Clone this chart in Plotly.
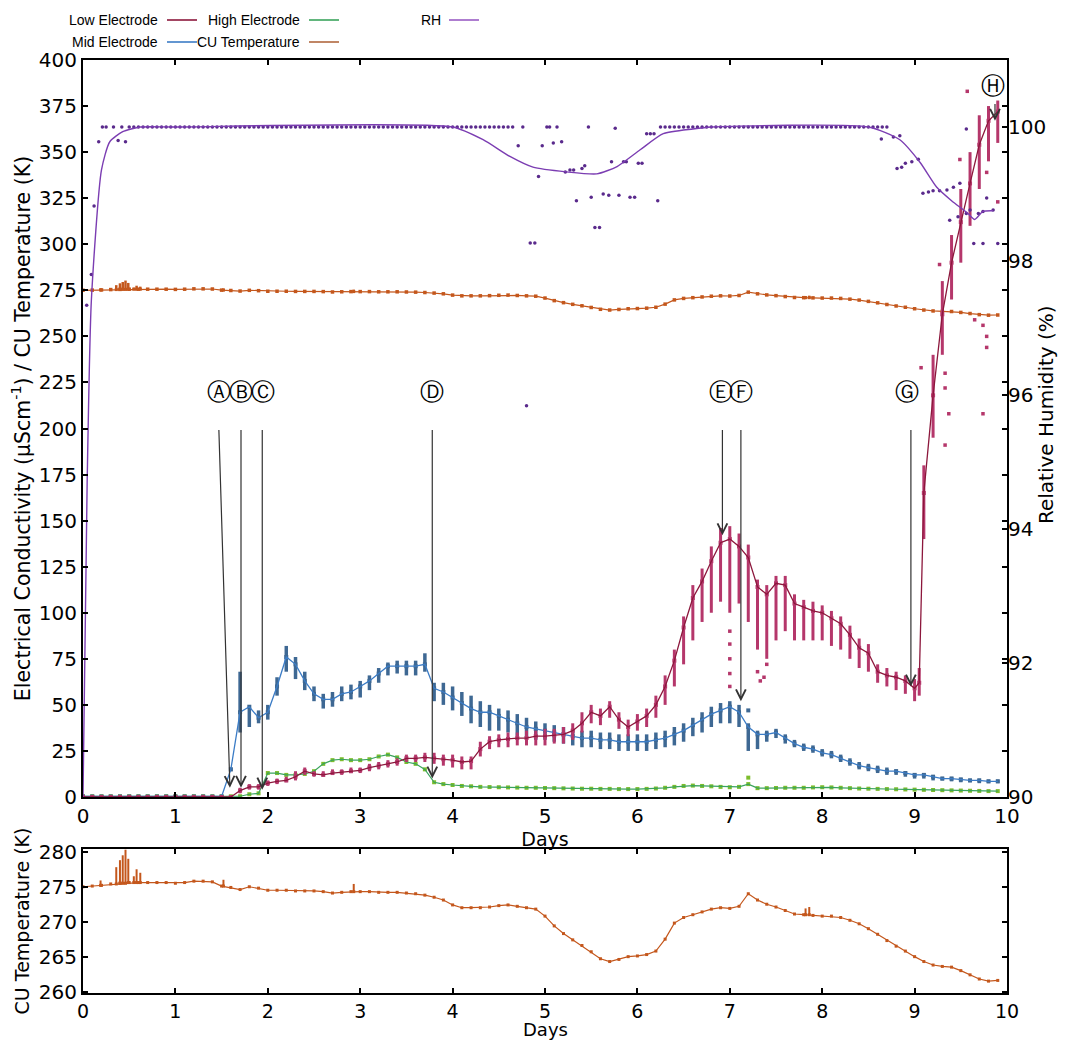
import plotly.graph_objects as go

# ---------------- data ----------------
days = [0.0, 0.1, 0.2, 0.3, 0.4, 0.5, 0.6, 0.7, 0.8, 0.9,
        1.0, 1.1, 1.2, 1.3, 1.4, 1.5, 1.6, 1.7, 1.8, 1.9,
        2.0, 2.1, 2.2, 2.3, 2.4, 2.5, 2.6, 2.7, 2.8, 2.9,
        3.0, 3.1, 3.2, 3.3, 3.4, 3.5, 3.6, 3.7, 3.8, 3.9,
        4.0, 4.1, 4.2, 4.3, 4.4, 4.5, 4.6, 4.7, 4.8, 4.9,
        5.0, 5.1, 5.2, 5.3, 5.4, 5.5, 5.6, 5.7, 5.8, 5.9,
        6.0, 6.1, 6.2, 6.3, 6.4, 6.5, 6.6, 6.7, 6.8, 6.9,
        7.0, 7.1, 7.2, 7.3, 7.4, 7.5, 7.6, 7.7, 7.8, 7.9,
        8.0, 8.1, 8.2, 8.3, 8.4, 8.5, 8.6, 8.7, 8.8, 8.9,
        9.0, 9.1, 9.2, 9.3, 9.4, 9.5, 9.6, 9.7, 9.8, 9.9]

# Low electrode (own time base: extra sample at 9.05)
low_days = [0.0, 0.1, 0.2, 0.3, 0.4, 0.5, 0.6, 0.7, 0.8, 0.9,
            1.0, 1.1, 1.2, 1.3, 1.4, 1.5, 1.6, 1.7, 1.8, 1.9,
            2.0, 2.1, 2.2, 2.3, 2.4, 2.5, 2.6, 2.7, 2.8, 2.9,
            3.0, 3.1, 3.2, 3.3, 3.4, 3.5, 3.6, 3.7, 3.8, 3.9,
            4.0, 4.1, 4.2, 4.3, 4.4, 4.5, 4.6, 4.7, 4.8, 4.9,
            5.0, 5.1, 5.2, 5.3, 5.4, 5.5, 5.6, 5.7, 5.8, 5.9,
            6.0, 6.1, 6.2, 6.3, 6.4, 6.5, 6.6, 6.7, 6.8, 6.9,
            7.0, 7.1, 7.2, 7.3, 7.4, 7.5, 7.6, 7.7, 7.8, 7.9,
            8.0, 8.1, 8.2, 8.3, 8.4, 8.5, 8.6, 8.7, 8.8, 8.9,
            9.0, 9.05, 9.1, 9.2, 9.3, 9.4, 9.5, 9.6, 9.7, 9.8, 9.9]
low_val = [0, 0, 0, 0, 0, 0, 0, 0, 0, 0,
           0, 0, 0, 0, 0, 0, 0, 3.5, 5.5, 5.5,
           7.5, 8.5, 9, 11, 14, 12.5, 12, 13, 13.5, 14,
           14.5, 16, 17, 18, 19, 21, 21, 21.5, 21, 20.5,
           20, 19, 19.5, 26, 30, 31, 31.5, 32, 32, 33,
           33, 33.5, 34, 36, 40, 46, 44, 49, 42, 38,
           41, 44, 50, 60, 74, 92, 108, 117, 128, 138,
           140, 136, 130, 114, 110, 116, 115, 105, 103, 101,
           100, 97, 94, 88, 81, 78, 68, 66, 65, 63,
           59, 62, 165, 218, 262, 290, 312, 333, 354, 367, 372]
low_min = [0, 0, 0, 0, 0, 0, 0, 0, 0, 0,
           0, 0, 0, 0, 0, 0, 0, 2, 4, 4,
           6, 7, 8, 9, 12, 11, 11, 12, 12, 13,
           13, 14, 15, 16, 17, 19, 19, 19, 18, 17,
           16, 15, 15, 22, 26, 27, 27, 28, 28, 28,
           28, 29, 29, 31, 35, 40, 39, 43, 37, 33,
           36, 38, 43, 50, 60, 72, 85, 95, 100, 106,
           100, 105, 95, 80, 75, 85, 90, 85, 85, 85,
           85, 82, 80, 75, 70, 68, 62, 60, 58, 56,
           52, 55, 140, 195, 240, 270, 290, 310, 330, 345, 355]
low_max = [0, 0, 0, 0, 0, 0, 0, 0, 0, 0,
           0, 0, 0, 0, 0, 0, 0, 5, 7, 7,
           9, 10, 11, 14, 16, 14, 14, 15, 15, 16,
           16, 18, 19, 20, 21, 23, 23, 24, 24, 23,
           23, 22, 22, 30, 33, 34, 35, 35, 36, 36,
           37, 37, 38, 40, 46, 50, 48, 52, 46, 42,
           45, 48, 55, 66, 80, 98, 115, 124, 136, 146,
           147, 143, 137, 118, 115, 120, 120, 110, 107, 106,
           104, 101, 98, 93, 86, 83, 72, 70, 68, 66,
           64, 70, 180, 240, 280, 305, 330, 350, 370, 375, 378]
low_out_days = [7.0, 7.0, 7.0, 7.0, 7.0, 7.3, 7.33, 7.37, 7.4, 9.07, 9.27, 9.33,
                9.33, 9.37, 9.33, 9.49, 9.57, 9.65, 9.74, 9.74, 9.78, 9.78, 9.78, 9.9]
low_out_vals = [60, 67, 75, 83, 90, 68, 63, 65, 72, 233, 289, 222,
                230, 208, 191, 346, 383, 259, 256, 208, 244, 250, 339, 323]

# Mid electrode
mid_val = [0.3, 0.3, 0.3, 0.3, 0.3, 0.3, 0.3, 0.3, 0.3, 0.3,
           0.3, 0.3, 0.3, 0.3, 0.3, 0.3, 15, 46, 49, 43,
           46, 60, 76, 72, 63, 56, 53, 53, 56, 57,
           60, 63, 67, 71, 71, 71, 71, 72, 59, 57,
           54, 51, 48, 46, 46, 44, 42, 40, 38, 37,
           36, 35, 34, 33, 32, 32, 31, 31, 30, 30,
           30, 30, 31, 32, 34, 36, 39, 42, 45, 47,
           49, 46, 38, 34, 34, 35, 32, 29, 27, 26,
           24, 23, 21, 19, 17, 16, 15, 14, 14, 13,
           12, 12, 11, 10, 10, 9.5, 9, 9, 8.5, 8.5]
mid_min = [0, 0, 0, 0, 0, 0, 0, 0, 0, 0,
           0, 0, 0, 0, 0, 0, 14, 35, 38, 40,
           42, 55, 68, 64, 58, 52, 48, 49, 52, 53,
           54, 58, 62, 66, 67, 66, 66, 68, 52, 50,
           47, 44, 40, 38, 36, 36, 35, 33, 32, 31,
           31, 30, 29, 28, 27, 27, 26, 26, 25, 25,
           25, 25, 26, 27, 28, 30, 33, 35, 38, 40,
           40, 38, 25, 26, 30, 32, 29, 27, 25, 24,
           22, 21, 19, 17, 15, 14, 13, 12, 12, 11,
           10, 10, 9, 9, 8.5, 8, 8, 7.5, 7.5, 7.5]
mid_max = [1, 1, 1, 1, 1, 1, 1, 1, 1, 1,
           1, 1, 1, 1, 1, 1, 16, 68, 48, 47,
           50, 65, 82, 76, 68, 60, 56, 57, 60, 61,
           63, 66, 70, 73, 74, 74, 74, 78, 62, 62,
           60, 57, 55, 52, 50, 48, 47, 45, 43, 41,
           40, 39, 38, 37, 36, 36, 35, 35, 34, 34,
           34, 34, 35, 36, 38, 40, 43, 46, 49, 51,
           52, 50, 40, 36, 36, 37, 34, 31, 29, 28,
           26, 25, 23, 21, 19, 18, 17, 16, 15, 14,
           13, 13, 12, 11, 11, 10.5, 10, 10, 9.5, 9.5]
mid_out_days = [7.2]
mid_out_vals = [47]

# High electrode
high_val = [0.4, 0.4, 0.4, 0.4, 0.4, 0.4, 0.4, 0.4, 0.4, 0.4,
            0.4, 0.4, 0.4, 0.4, 0.4, 0.4, 0.4, 0.4, 1.5, 2.0,
            13, 13, 12, 12, 12.5, 14, 18, 20, 20.5, 20,
            20, 20.5, 22, 23, 21.5, 19, 18, 15, 8, 7,
            6.5, 6, 5.8, 5.5, 5.4, 5.3, 5.2, 5.1, 5, 5,
            4.9, 4.8, 4.7, 4.6, 4.5, 4.5, 4.4, 4.4, 4.3, 4.3,
            4.3, 4.4, 4.6, 5, 5.5, 6, 6.2, 6, 5.8, 5.5,
            5.3, 5.5, 7, 4.8, 4.8, 4.9, 5, 5, 5, 5.2,
            5.3, 5.2, 5, 4.8, 4.6, 4.5, 4.4, 4.3, 4.2, 4.1,
            4, 3.9, 3.8, 3.7, 3.6, 3.5, 3.4, 3.3, 3.2, 3.2]
high_out_days = [7.2]
high_out_vals = [10.5]

# CU temperature (K)
cu_temp = [275.0, 275.1, 275.2, 275.4, 275.5, 275.6, 275.6, 275.6, 275.6, 275.6,
           275.5, 275.6, 275.8, 275.8, 275.7, 275.1, 274.9, 274.6, 275.0, 274.8,
           274.5, 274.5, 274.5, 274.4, 274.4, 274.4, 274.3, 274.1, 274.2, 274.3,
           274.3, 274.3, 274.2, 274.2, 274.2, 274.1, 274.0, 273.8, 273.5, 273.1,
           272.4, 272.0, 272.0, 272.0, 272.1, 272.3, 272.4, 272.2, 272.0, 271.8,
           270.8, 269.4, 268.3, 267.4, 266.6, 265.7, 264.7, 264.3, 264.6, 265.0,
           265.1, 265.3, 265.8, 267.5, 269.8, 270.6, 271.0, 271.4, 271.8, 272.0,
           271.9, 272.2, 274.0, 273.1, 272.5, 272.1, 271.6, 271.1, 271.0, 270.9,
           270.8, 270.8, 270.6, 270.2, 269.7, 269.0, 268.2, 267.3, 266.5, 265.8,
           265.0, 264.3, 263.8, 263.6, 263.5, 263.0, 262.4, 261.8, 261.5, 261.6]
cu_spike_days = [0.19, 0.36, 0.4, 0.43, 0.46, 0.49, 0.55, 0.58, 0.62, 1.52, 2.93, 7.82, 7.86]
cu_spike_base = [275.2, 275.4, 275.5, 275.5, 275.5, 275.6, 275.6, 275.6, 275.6, 275.1, 274.3, 271.0, 271.0]
cu_spike_top = [275.9, 277.8, 278.8, 279.5, 280.3, 279.0, 276.5, 277.5, 277.0, 276.0, 275.4, 271.9, 272.1]

# Relative humidity (%)
rh_line_days = [0.0, 0.045, 0.09, 0.2, 0.29, 0.43, 0.62, 1.0, 4.0, 4.33, 4.62, 4.87,
                5.23, 5.56, 5.78, 6.03, 6.28, 6.6, 6.8, 8.5, 8.84, 9.06, 9.24, 9.4,
                9.57, 9.65, 9.74, 9.85]
rh_line_vals = [90.0, 94.7, 97.4, 99.36, 99.78, 99.93, 100.0, 100.0, 100.0, 99.81, 99.56, 99.4,
                99.33, 99.3, 99.41, 99.66, 99.9, 99.97, 100.0, 100.0, 99.81, 99.47, 99.1, 98.9,
                98.72, 98.62, 98.74, 98.75]
rh_row_days = [0.50, 0.55, 0.60, 0.65, 0.70, 0.75, 0.80, 0.85, 0.90, 0.95,
               1.00, 1.05, 1.10, 1.15, 1.20, 1.25, 1.30, 1.35, 1.40, 1.45,
               1.50, 1.55, 1.60, 1.65, 1.70, 1.75, 1.80, 1.85, 1.90, 1.95,
               2.00, 2.05, 2.10, 2.15, 2.20, 2.25, 2.30, 2.35, 2.40, 2.45,
               2.50, 2.55, 2.60, 2.65, 2.70, 2.75, 2.80, 2.85, 2.90, 2.95,
               3.00, 3.05, 3.10, 3.15, 3.20, 3.25, 3.30, 3.35, 3.40, 3.45,
               3.50, 3.55, 3.60, 3.65, 3.70, 3.75, 3.80, 3.85, 3.90, 3.95,
               4.00, 4.05, 4.10, 4.15, 4.20, 4.25, 4.30, 4.35, 4.40, 4.45,
               4.50, 4.55, 4.60, 4.65,
               6.25, 6.30, 6.35, 6.40, 6.45, 6.50, 6.55, 6.60, 6.65, 6.70,
               6.75, 6.80, 6.85, 6.90, 6.95, 7.00, 7.05, 7.10, 7.15, 7.20,
               7.25, 7.30, 7.35, 7.40, 7.45, 7.50, 7.55, 7.60, 7.65, 7.70,
               7.75, 7.80, 7.85, 7.90, 7.95, 8.00, 8.05, 8.10, 8.15, 8.20,
               8.25, 8.30, 8.35, 8.40, 8.45, 8.50, 8.55, 8.60, 8.65, 8.70]
rh_row_val = 100.0
rh_pt_days = [0.04, 0.09, 0.12, 0.17, 0.21, 0.25, 0.33, 0.38, 0.42, 0.46,
              4.71, 4.76, 4.80, 4.84, 4.89, 4.93, 4.97, 5.02, 5.05, 5.09,
              5.13, 5.18, 5.22, 5.27, 5.31, 5.34, 5.40, 5.43, 5.47, 5.50,
              5.54, 5.59, 5.63, 5.69, 5.72, 5.76, 5.80, 5.85, 5.88, 5.92,
              5.97, 6.01, 6.05, 6.10, 6.14, 6.18, 6.22,
              8.64, 8.77, 8.84, 8.81, 8.86, 8.90, 8.97, 9.04, 9.09, 9.15,
              9.20, 9.27, 9.35, 9.42, 9.49, 9.38, 9.47, 9.56, 9.60, 9.69,
              9.74, 9.85, 9.64, 9.74, 9.90, 9.56, 9.78]
rh_pt_vals = [97.34, 97.8, 98.82, 99.78, 100.0, 100.0, 100.0, 99.8, 100.0, 99.78,
              99.72, 100.0, 95.84, 98.27, 98.27, 99.26, 99.72, 100.0, 100.0, 99.76,
              100.0, 99.78, 99.33, 99.36, 99.36, 98.9, 99.38, 99.42, 100.0, 98.95,
              98.5, 98.5, 99.0, 98.98, 99.48, 99.98, 98.98, 99.48, 99.48, 98.95,
              98.95, 99.46, 99.46, 99.9, 99.9, 99.9, 98.9,
              99.82, 99.85, 99.87, 99.38, 99.4, 99.46, 99.48, 99.52, 99.01, 99.03,
              99.05, 99.05, 99.06, 99.1, 99.16, 98.61, 98.66, 98.71, 98.76, 98.71,
              98.74, 98.76, 98.26, 98.26, 98.26, 99.97, 98.94]

# Event markers (letter, arrow tip day, tip value, tail day, tail value)
ev_letters = ["Ⓐ", "Ⓑ", "Ⓒ", "Ⓓ", "Ⓔ", "Ⓕ", "Ⓖ", "Ⓗ"]
ev_label_day = [1.47, 1.71, 1.95, 3.78, 6.91, 7.12, 8.92, 9.85]
ev_label_val = [220, 220, 220, 220, 220, 220, 220, 386]
ev_tip_day = [1.59, 1.71, 1.94, 3.78, 6.92, 7.12, 8.96, 9.87]
ev_tip_val = [5, 5, 4, 10, 142, 52, 60, 367]
ev_tail_day = [1.47, 1.71, 1.94, 3.78, 6.92, 7.12, 8.96, 9.87]
ev_tail_val = [200, 200, 200, 200, 200, 200, 200, 377]

# ---------------- styling ----------------
FONT = "DejaVu Sans, Verdana, sans-serif"
LEG_FONT = "Liberation Sans, Arial, sans-serif"
LOW_DOT, LOW_LINE = "#b5376b", "#8c173c"
MID_DOT, MID_LINE = "#3e6893", "#3b7cc6"
HIGH_DOT, HIGH_LINE = "#7dbd2c", "#3aa45c"
CU_C = "#c4571c"
RH_DOT, RH_LINE = "#5a2a8c", "#7b3db2"


def up(vals, hi):
    return [max(0, h - v) for v, h in zip(vals, hi)]


def dn(vals, lo):
    return [max(0, v - l) for v, l in zip(vals, lo)]


fig = go.Figure()

# --- top panel ---
fig.add_trace(go.Scatter(x=days, y=cu_temp, mode="lines+markers", name="CU Temperature",
                         line=dict(color=CU_C, width=1.2),
                         marker=dict(size=3.5, symbol="square", color=CU_C),
                         xaxis="x", yaxis="y"))
fig.add_trace(go.Scatter(x=cu_spike_days, y=cu_spike_base, mode="markers", showlegend=False,
                         marker=dict(size=3, symbol="square", color=CU_C),
                         error_y=dict(type="data", symmetric=False,
                                      array=up(cu_spike_base, cu_spike_top),
                                      arrayminus=[0] * len(cu_spike_base),
                                      width=0, thickness=2.5, color=CU_C),
                         xaxis="x", yaxis="y"))
fig.add_trace(go.Scatter(x=rh_row_days, y=[rh_row_val] * len(rh_row_days), mode="markers",
                         showlegend=False, marker=dict(size=3.5, color=RH_DOT),
                         xaxis="x", yaxis="y2"))
fig.add_trace(go.Scatter(x=rh_pt_days, y=rh_pt_vals, mode="markers", showlegend=False,
                         marker=dict(size=3.5, color=RH_DOT), xaxis="x", yaxis="y2"))
fig.add_trace(go.Scatter(x=rh_line_days, y=rh_line_vals, mode="lines", name="RH",
                         line=dict(color=RH_LINE, width=1.4, shape="spline", smoothing=0.6),
                         xaxis="x", yaxis="y2"))

fig.add_trace(go.Scatter(x=days, y=high_val, mode="markers", showlegend=False,
                         marker=dict(size=4, symbol="square", color=HIGH_DOT),
                         xaxis="x", yaxis="y"))
fig.add_trace(go.Scatter(x=high_out_days, y=high_out_vals, mode="markers", showlegend=False,
                         marker=dict(size=4, symbol="square", color=HIGH_DOT),
                         xaxis="x", yaxis="y"))
fig.add_trace(go.Scatter(x=days, y=high_val, mode="lines", name="High Electrode",
                         line=dict(color=HIGH_LINE, width=1.2), xaxis="x", yaxis="y"))

fig.add_trace(go.Scatter(x=days, y=mid_val, mode="markers", showlegend=False,
                         marker=dict(size=4, symbol="square", color=MID_DOT),
                         error_y=dict(type="data", symmetric=False,
                                      array=up(mid_val, mid_max),
                                      arrayminus=dn(mid_val, mid_min),
                                      width=0, thickness=3.5, color=MID_DOT),
                         xaxis="x", yaxis="y"))
fig.add_trace(go.Scatter(x=mid_out_days, y=mid_out_vals, mode="markers", showlegend=False,
                         marker=dict(size=4, symbol="square", color=MID_DOT),
                         xaxis="x", yaxis="y"))
fig.add_trace(go.Scatter(x=days, y=mid_val, mode="lines", name="Mid Electrode",
                         line=dict(color=MID_LINE, width=1.3), xaxis="x", yaxis="y"))

fig.add_trace(go.Scatter(x=low_days, y=low_val, mode="markers", showlegend=False,
                         marker=dict(size=4, symbol="square", color=LOW_DOT),
                         error_y=dict(type="data", symmetric=False,
                                      array=up(low_val, low_max),
                                      arrayminus=dn(low_val, low_min),
                                      width=0, thickness=3, color=LOW_DOT),
                         xaxis="x", yaxis="y"))
fig.add_trace(go.Scatter(x=low_out_days, y=low_out_vals, mode="markers", showlegend=False,
                         marker=dict(size=3.5, symbol="square", color=LOW_DOT),
                         xaxis="x", yaxis="y"))
fig.add_trace(go.Scatter(x=low_days, y=low_val, mode="lines", name="Low Electrode",
                         line=dict(color=LOW_LINE, width=1.3), xaxis="x", yaxis="y"))

# --- bottom panel ---
fig.add_trace(go.Scatter(x=days, y=cu_temp, mode="lines+markers", showlegend=False,
                         line=dict(color=CU_C, width=1.2),
                         marker=dict(size=3, symbol="square", color=CU_C),
                         xaxis="x2", yaxis="y3"))
fig.add_trace(go.Scatter(x=cu_spike_days, y=cu_spike_base, mode="markers", showlegend=False,
                         marker=dict(size=3, symbol="square", color=CU_C),
                         error_y=dict(type="data", symmetric=False,
                                      array=up(cu_spike_base, cu_spike_top),
                                      arrayminus=[0] * len(cu_spike_base),
                                      width=0, thickness=2, color=CU_C),
                         xaxis="x2", yaxis="y3"))

# ---------------- layout ----------------
# page body has an 8px margin, so the figure is offset by OFF px in the screenshot
OFF = 8
W, H = 1067, 1040
FX0, FX1, FY0, FY1 = 83, 1007, 60, 993   # desired frame edges in the screenshot
L, T = FX0 - OFF, FY0 - OFF
PW, PH = FX1 - FX0, FY1 - FY0
R, B = W - L - PW, H - T - PH


def px(p):
    return (p - FX0) / PW


def py(p):
    return (FY1 - p) / PH


axis_common = dict(showline=True, linecolor="black", linewidth=2, mirror="ticks",
                   ticks="inside", ticklen=5, tickwidth=1.5, tickcolor="black",
                   showgrid=False, zeroline=False, automargin=False,
                   tickfont=dict(family=FONT, size=20, color="black"))

annotations = []
for lab, lx, ly in zip(ev_letters, ev_label_day, ev_label_val):
    annotations.append(dict(x=lx, y=ly, xref="x", yref="y", text=lab, showarrow=False,
                            font=dict(family="DejaVu Sans", size=24, color="black")))
for tx, ty, sx, sy in zip(ev_tip_day, ev_tip_val, ev_tail_day, ev_tail_val):
    annotations.append(dict(x=tx, y=ty, ax=sx, ay=sy, xref="x", yref="y", axref="x", ayref="y",
                            text="", showarrow=True, arrowhead=5, arrowsize=1.6,
                            arrowwidth=1.2, arrowcolor="#333333", standoff=0))

annotations.append(dict(x=px(1046), y=py(415), xref="paper", yref="paper",
                        xanchor="center", yanchor="middle",
                        text="Relative Humidity (%)", textangle=-90, showarrow=False,
                        font=dict(family=FONT, size=20, color="black")))
annotations.append(dict(x=0.5, y=py(1030), xref="paper", yref="paper",
                        xanchor="center", yanchor="middle", text="Days", showarrow=False,
                        font=dict(family=FONT, size=18, color="black")))

# custom legend: text then line sample
legend_items = [("Low Electrode", LOW_LINE, 160, 167, 20),
                ("Mid Electrode", MID_LINE, 160, 167, 42),
                ("High Electrode", HIGH_LINE, 302, 309, 20),
                ("CU Temperature", "#b0683e", 302, 309, 42),
                ("RH", "#9a5cc4", 443, 449, 20)]
shapes = []
for txt, col, tx_r, lx0, yy in legend_items:
    annotations.append(dict(x=px(tx_r), y=py(yy), xref="paper", yref="paper", text=txt,
                            xanchor="right", yanchor="middle", showarrow=False,
                            font=dict(family=LEG_FONT, size=14, color="black")))
    shapes.append(dict(type="line", xref="paper", yref="paper",
                       x0=px(lx0), x1=px(lx0 + 30), y0=py(yy), y1=py(yy),
                       line=dict(color=col, width=1.6)))

fig.update_layout(
    width=W, height=H,
    margin=dict(l=L, r=R, t=T, b=B),
    paper_bgcolor="white", plot_bgcolor="white",
    showlegend=False,
    font=dict(family=FONT, color="black"),
    xaxis=dict(axis_common, domain=[0, 1], anchor="y", range=[0, 10], dtick=1,
               title=dict(text="Days", font=dict(family=FONT, size=19), standoff=0)),
    yaxis=dict(axis_common, domain=[py(797), 1], anchor="x", range=[0, 400], dtick=25,
               title=dict(text="Electrical Conductivity (μScm<sup>-1</sup>) / CU Temperature (K)",
                          font=dict(family=FONT, size=20.5), standoff=4)),
    yaxis2=dict(overlaying="y", side="right", anchor="x", range=[90, 101],
                tickvals=[90, 92, 94, 96, 98, 100], showgrid=False, zeroline=False,
                showline=False, ticks="inside", ticklen=5, tickwidth=1.5, tickcolor="black",
                automargin=False,
                tickfont=dict(family=FONT, size=20, color="black")),
    xaxis2=dict(axis_common, domain=[0, 1], anchor="y3", range=[0, 10], dtick=1,
                tickfont=dict(family=FONT, size=19, color="black")),
    yaxis3=dict(axis_common, domain=[0, py(849)], anchor="x2", range=[259.8, 280.4],
                tickvals=[260, 265, 270, 275, 280],
                title=dict(text="CU Temperature (K)", font=dict(family=FONT, size=19), standoff=4)),
    annotations=annotations,
    shapes=shapes,
)

fig.write_html("out.html")
